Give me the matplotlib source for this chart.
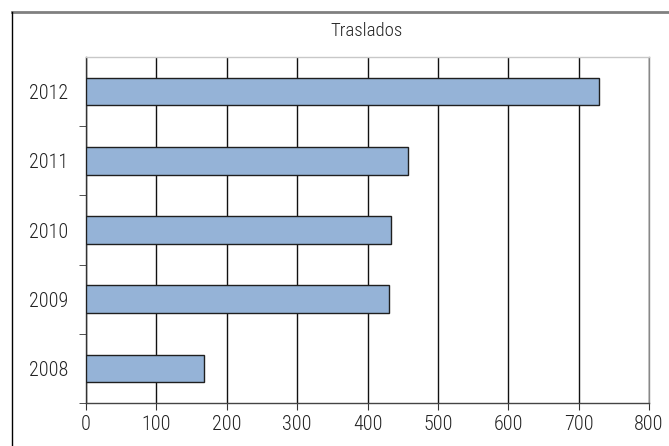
import matplotlib
matplotlib.use("Agg")
import matplotlib.pyplot as plt
from matplotlib.lines import Line2D

years = ["2008", "2009", "2010", "2011", "2012"]
values = [167, 430, 433, 457, 729]
xticks = [0, 100, 200, 300, 400, 500, 600, 700, 800]
title = "Traslados"

plt.rcParams['font.family'] = ['Roboto Condensed', 'DejaVu Sans']
plt.rcParams['font.weight'] = 'light'

fig = plt.figure(figsize=(6.69, 4.46), dpi=100)
ax = fig.add_axes([86/669, 43/446, (649-86)/669, (403-57)/446])

pos = list(range(len(years)))
ax.barh(pos, values, height=0.4, color='#95b3d7', edgecolor='#1f1f1f',
        linewidth=1.0, zorder=3)

ax.set_xlim(0, 800)
ax.set_ylim(-0.5, len(years) - 0.5)
ax.set_xticks(xticks)
ax.set_xticklabels([str(t) for t in xticks])
ax.set_yticks(pos)
ax.set_yticklabels(years)
ax.set_yticks([p + 0.5 for p in pos[:-1]] + [-0.5], minor=True)

ax.xaxis.grid(True, color='#111111', linewidth=1.0, zorder=0)
ax.set_axisbelow(True)

ax.tick_params(axis='y', which='major', length=0, labelsize=14.5, pad=13, colors='#222222')
ax.tick_params(axis='y', which='minor', length=5, direction='out', color='#333333')
ax.tick_params(axis='x', which='major', length=5, direction='out', labelsize=14.5,
               color='#333333', labelcolor='#222222', pad=4)

ax.spines['left'].set_color('#333333')
ax.spines['bottom'].set_color('#444444')
ax.spines['top'].set_color('#c8c8c8')
ax.spines['right'].set_color('#888888')
for s in ax.spines.values():
    s.set_linewidth(1.0)

fig.text(367/669, 1 - 31/446, title, ha='center', va='center', fontsize=13.5, color='#222222')

# outer frame (top and left visible)
fig.add_artist(Line2D([12/669, 1.0], [1 - 12/446, 1 - 12/446], transform=fig.transFigure,
                      color='#808080', linewidth=2.0))
fig.add_artist(Line2D([12/669, 12/669], [1 - 12/446, 0.0], transform=fig.transFigure,
                      color='#000000', linewidth=1.0))

fig.savefig("out.png", dpi=100)
